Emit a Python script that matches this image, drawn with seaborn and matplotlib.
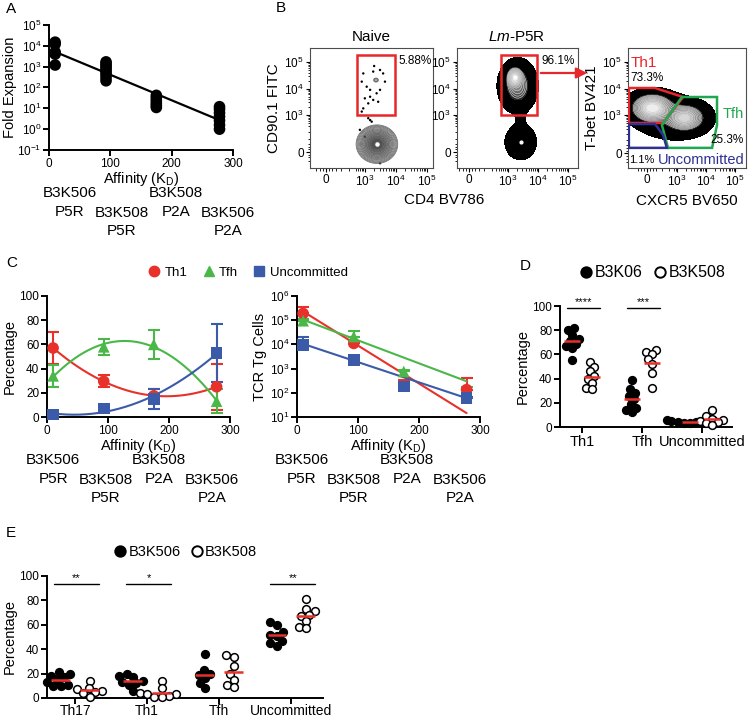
import numpy as np
import pandas as pd
import matplotlib
matplotlib.use("Agg")
import matplotlib.pyplot as plt
from matplotlib.lines import Line2D
from matplotlib.patches import Rectangle, Polygon, FancyArrowPatch
from matplotlib.ticker import FixedLocator, NullLocator
import seaborn as sns

# ---------------- data ----------------
# A: fold expansion for each peptide (affinity K_D)
kd = [10, 93, 175, 278]
peptide_name = ["B3K506", "B3K508", "B3K508", "B3K506"]
peptide_mut = ["P5R", "P5R", "P2A", "P2A"]
fold_506_p5r = [15000, 12000, 5000, 4000, 1200]
fold_508_p5r = [1700, 1400, 1100, 900, 700, 550, 420, 300, 210]
fold_508_p2a = [42, 32, 24, 18, 14, 11]
fold_506_p2a = [12, 9, 6, 4, 2.6, 1.6, 1.0]

# C left: % of each subset (mean, SEM)
th1_pct = [57, 29.5, 17.5, 25]
th1_pct_sem = [13, 5, 6, 19]
tfh_pct = [34, 58, 60, 13]
tfh_pct_sem = [9, 6.5, 12, 10]
unc_pct = [2, 7, 15, 53]
unc_pct_sem = [1, 3, 8, 24]

# C right: TCR Tg cells (mean, top of SEM bar, fitted line at first/last K_D)
th1_cells = [1.9e5, 1.1e4, 215, 135]
th1_cells_top = [3.6e5, 1.3e4, 330, 420]
tfh_cells = [9.5e4, 2.1e4, 760, 65]
tfh_cells_top = [1.1e5, 3.6e4, 900, 180]
unc_cells = [9.5e3, 2.3e3, 180, 60]
unc_cells_top = [2.0e4, 3.1e3, 200, 70]
th1_fit_ends = [2.3e5, 14.5]
tfh_fit_ends = [1.05e5, 300]
unc_fit_ends = [1.05e4, 60]

# D: % per subset, B3K06 vs B3K508
d_subsets = ["Th1", "Tfh", "Uncommitted"]
d_506 = [[82, 80, 76, 73, 71, 69, 67, 65, 55],
         [39, 31, 28, 26, 23, 19, 16, 14, 12],
         [6, 5.5, 5, 5, 4.5, 4, 4, 3.5, 3]]
d_508 = [[54, 50, 46, 42, 40, 36, 32, 31],
         [64, 62, 60, 56, 52, 45, 32],
         [14, 9, 7, 6, 5, 4, 3, 2]]
d_stars = ["****", "***", ""]

# E: % per subset, B3K506 vs B3K508
e_subsets = ["Th17", "Th1", "Tfh", "Uncommitted"]
e_506 = [[21, 20, 18, 17, 15, 13, 11, 10, 10],
         [20, 18, 17, 14, 13, 12, 11, 6],
         [36, 23, 20, 19, 16, 12, 8],
         [62, 60, 54, 52, 51, 47, 45, 43]]
e_508 = [[14, 8, 7, 6, 5, 4, 1],
         [14, 8, 4, 3, 3, 2, 1, 1],
         [35, 34, 26, 20, 15, 11, 9],
         [81, 73, 71, 68, 67, 63, 58, 57]]
e_stars = ["**", "*", "", "**"]

# B: flow populations in decade units (10^3 -> 3 ...), gates and percentages
naive_pop_x = [3.39, 3.36]
naive_pop_y = [1.9, 4.32]
naive_pop_sx = [0.24, 0.06]
naive_pop_sy = [0.26, 0.06]
naive_pop_w = [1.0, 0.045]
naive_dots_x = [2.95, 2.9, 3.06, 3.17, 3.27, 3.49, 3.59, 3.65, 3.49, 3.38, 3.17, 3.0,
                3.11, 3.27, 3.43, 2.95, 2.9, 3.11, 3.17, 3.22, 2.84, 3.0, 3.49, 3.3]
naive_dots_y = [4.57, 4.26, 4.07, 3.95, 4.64, 4.7, 4.57, 4.26, 3.95, 3.82, 3.69, 3.63,
                3.44, 3.57, 3.5, 3.25, 3.13, 2.88, 2.81, 2.75, 2.44, 2.18, 1.18, 4.85]
lm_pop_x = [3.32, 3.22, 3.42, 3.42]
lm_pop_y = [4.1, 4.42, 2.9, 1.98]
lm_pop_sx = [0.27, 0.12, 0.12, 0.26]
lm_pop_sy = [0.42, 0.18, 0.35, 0.33]
lm_pop_w = [0.5, 1.0, 0.025, 0.15]
th_pop_x = [2.14, 3.28, 2.85]
th_pop_y = [3.27, 2.89, 2.9]
th_pop_sx = [0.38, 0.36, 0.7]
th_pop_sy = [0.28, 0.26, 0.45]
th_pop_w = [1.0, 0.75, 0.12]
cd90_gate = [2.75, 3.98, 3.0, 5.27]
th1_gate_x = [1.34, 2.24, 3.21, 2.52, 1.34]
th1_gate_y = [4.02, 4.02, 3.68, 2.70, 2.70]
tfh_gate_x = [3.17, 4.38, 4.38, 4.21, 2.69, 2.48]
tfh_gate_y = [3.68, 3.68, 2.62, 1.76, 1.76, 2.62]
unc_gate_x = [1.34, 2.24, 2.52, 2.65, 1.34]
unc_gate_y = [2.66, 2.66, 2.25, 1.76, 1.76]
gate_pct = {"naive": "5.88%", "lm": "96.1%", "th1": "73.3%", "tfh": "25.3%", "unc": "1.1%"}

# ---------------- style ----------------
sns.set_theme(style="ticks")
plt.rcParams.update({
    "font.family": ["Liberation Sans", "DejaVu Sans"],
    "mathtext.fontset": "custom",
    "mathtext.rm": "Liberation Sans",
    "mathtext.it": "Liberation Sans:italic",
    "mathtext.bf": "Liberation Sans:bold",
    "hatch.color": "black",
    "hatch.linewidth": 0.7,
    "axes.edgecolor": "black",
    "xtick.color": "black",
    "ytick.color": "black",
    "text.color": "black",
    "axes.labelcolor": "black",
})
RED, GREEN, BLUE = "#E8312A", "#4BB749", "#3B5BA8"
GATE_RED, GATE_GREEN, GATE_BLUE = "#E8262B", "#1FA84F", "#2E3192"

W, H = 750, 717
fig = plt.figure(figsize=(7.5, 7.17), dpi=100)


def box(l, t, r, b):
    return [l / W, 1 - b / H, (r - l) / W, (b - t) / H]


def ftext(x, y, s, **kw):
    kw.setdefault("va", "center")
    fig.text(x / W, 1 - y / H, s, **kw)


def prism(ax):
    sns.despine(ax=ax)
    for s in ("left", "bottom"):
        ax.spines[s].set_linewidth(1.4)
    ax.tick_params(which="major", direction="out", length=4, width=1.4, labelsize=8.5, pad=1.5)
    ax.tick_params(which="minor", length=0)


def peptide_labels(ax, xs, height_px):
    for i, (name, mut) in enumerate(zip(peptide_name, peptide_mut)):
        off = [63, 81] if i % 2 else [43, 62]
        for line, dy in zip([name, mut], off):
            ax.text(xs[i], -dy / height_px, line, transform=ax.get_xaxis_transform(),
                    ha="center", va="center", fontsize=11)


kd_label = "Affinity (K$_\\mathregular{D}$)"

# ---------------- A ----------------
axA = fig.add_axes(box(49, 25, 233, 150))
a_groups = [fold_506_p5r, fold_508_p5r, fold_508_p2a, fold_506_p2a]
dfA = pd.DataFrame({"kd": np.repeat(kd, [len(g) for g in a_groups]),
                    "fold": np.concatenate(a_groups)})
axA.set_yscale("log")
slope, icpt = np.polyfit(dfA["kd"], np.log10(dfA["fold"]), 1)
fx = np.array([kd[0], kd[-1]])
sns.lineplot(x=fx, y=10 ** (icpt + slope * fx), color="black", linewidth=1.6, ax=axA)
sns.scatterplot(data=dfA, x="kd", y="fold", color="black", s=70, edgecolor="none",
                ax=axA, zorder=3, clip_on=False)
axA.set_xlim(0, 300)
axA.set_ylim(0.1, 1e5)
axA.set_xticks([0, 100, 200, 300])
axA.set_yticks([1e-1, 1, 10, 100, 1e3, 1e4, 1e5])
axA.yaxis.set_minor_locator(NullLocator())
prism(axA)
axA.set_xlabel(kd_label, fontsize=10.5, labelpad=0)
axA.set_ylabel("Fold Expansion", fontsize=10.5, labelpad=0)
axA.text(176, 0.84, "P < 0.0001", transform=axA.get_yaxis_transform(), fontsize=8.5, va="center")
axA.text(176, 0.70, "r$^2$= 0.7046", transform=axA.get_yaxis_transform(), fontsize=8.5, va="center")
peptide_labels(axA, [34, 119, 207, 292], 125)

# ---------------- C left ----------------
axC1 = fig.add_axes(box(47, 296, 230, 417))
xs = np.linspace(kd[0], kd[-1], 150)
c_series = [(th1_pct, th1_pct_sem, RED, "o"), (tfh_pct, tfh_pct_sem, GREEN, "^"),
            (unc_pct, unc_pct_sem, BLUE, "s")]
for vals, sem, col, mk in c_series:
    coef = np.polyfit(kd, vals, 2)
    sns.lineplot(x=xs, y=np.polyval(coef, xs), color=col, linewidth=1.5, ax=axC1)
    axC1.errorbar(kd, vals, yerr=sem, fmt="none", ecolor=col, elinewidth=1.5,
                  capsize=4.5, capthick=1.5)
    sns.scatterplot(x=kd, y=vals, color=col, marker=mk, s=70, edgecolor="none",
                    ax=axC1, zorder=3, clip_on=False)
axC1.set_xlim(0, 300)
axC1.set_ylim(0, 100)
axC1.set_xticks([0, 100, 200, 300])
axC1.set_yticks(range(0, 101, 20))
prism(axC1)
axC1.set_xlabel(kd_label, fontsize=10.5, labelpad=0)
axC1.set_ylabel("Percentage", fontsize=10.5, labelpad=2)
peptide_labels(axC1, [10, 96, 183, 270], 121)

handles = [Line2D([], [], ls="none", marker=m, color=c, markersize=7.5)
           for c, m in [(RED, "o"), (GREEN, "^"), (BLUE, "s")]]
fig.legend(handles, ["Th1", "Tfh", "Uncommitted"], loc="center",
           bbox_to_anchor=(247 / W, 1 - 273 / H), ncol=3, frameon=False, fontsize=9.5,
           handletextpad=0.2, columnspacing=1.0, handlelength=1.2, borderpad=0)

# ---------------- C right ----------------
axC2 = fig.add_axes(box(297, 296, 480, 417))
axC2.set_yscale("log")
c2_series = [(th1_cells, th1_cells_top, th1_fit_ends, RED, "o"),
             (tfh_cells, tfh_cells_top, tfh_fit_ends, GREEN, "^"),
             (unc_cells, unc_cells_top, unc_fit_ends, BLUE, "s")]
for vals, top, ends, col, mk in c2_series:
    sns.lineplot(x=[kd[0], kd[-1]], y=ends, color=col, linewidth=1.5, ax=axC2)
    up = np.array(top) - np.array(vals)
    axC2.errorbar(kd, vals, yerr=[np.zeros(len(vals)), up], fmt="none", ecolor=col,
                  elinewidth=1.5, capsize=4.5, capthick=1.5)
    sns.scatterplot(x=kd, y=vals, color=col, marker=mk, s=70, edgecolor="none",
                    ax=axC2, zorder=3, clip_on=False)
axC2.set_xlim(0, 300)
axC2.set_ylim(10, 1e6)
axC2.set_xticks([0, 100, 200, 300])
axC2.set_yticks([1e1, 1e2, 1e3, 1e4, 1e5, 1e6])
axC2.yaxis.set_minor_locator(NullLocator())
prism(axC2)
axC2.set_xlabel(kd_label, fontsize=10.5, labelpad=0)
axC2.set_ylabel("TCR Tg Cells", fontsize=10.5, labelpad=2)
peptide_labels(axC2, [8, 93, 180, 267], 121)


# ---------------- D and E (scatter dot plots) ----------------
def swarm_xy(ax, x, y, size):
    # let seaborn lay the swarm out with a small dot, then read back the positions
    n0 = len(ax.collections)
    sns.swarmplot(x=x, y=y, native_scale=True, orient="x", size=size, linewidth=0, ax=ax)
    fig.canvas.draw()
    new = list(ax.collections[n0:])
    xy = np.vstack([c.get_offsets() for c in new])
    for c in new:
        c.remove()
    return xy


def dot_panel(ax, g506, g508, pos506, pos508, half, stars, star_y, xlim, swarm_size):
    ax.set_ylim(0, 100)
    ax.set_xlim(xlim)
    for groups, pos, face in [(g506, pos506, "black"), (g508, pos508, "white")]:
        x = np.repeat(pos, [len(g) for g in groups])
        y = np.concatenate(groups)
        xy = swarm_xy(ax, x, y, swarm_size)
        sns.scatterplot(x=xy[:, 0], y=xy[:, 1], color=face, edgecolor="black",
                        linewidth=1.1, s=31, ax=ax, zorder=3, clip_on=False)
        means = [np.mean(g) for g in groups]
        ax.hlines(means, np.array(pos) - half, np.array(pos) + half, color=RED,
                  linewidth=1.8, zorder=5)
    for p1, p2, s in zip(pos506, pos508, stars):
        if s:
            ax.plot([p1 - half * 0.7, p2 + half], [star_y, star_y], color="black", lw=1)
            ax.text((p1 + p2) / 2 + half * 0.15, star_y + 1, s, ha="center", va="bottom",
                    fontsize=8)
    ax.set_ylim(0, 100)
    ax.set_xlim(xlim)
    ax.set_yticks(range(0, 101, 20))
    prism(ax)
    ax.set_ylabel("Percentage", fontsize=10.5, labelpad=2)
    ax.set_xlabel("")


def genotype_legend(x, y, names, size):
    hs = [Line2D([], [], ls="none", marker="o", markerfacecolor=f, markeredgecolor="black",
                 markeredgewidth=1.4, markersize=7.5) for f in ("black", "white")]
    fig.legend(hs, names, loc="center", bbox_to_anchor=(x / W, 1 - y / H), ncol=2,
               frameon=False, fontsize=size, handletextpad=0.05, columnspacing=0.6,
               handlelength=1.0, borderpad=0)


axD = fig.add_axes(box(560, 306, 732, 427))
d_pos_506 = [0, 3, 5.9]
d_pos_508 = [1, 4, 7]
dot_panel(axD, d_506, d_508, d_pos_506, d_pos_508, 0.38, d_stars, 98.5, (-0.6, 8.0), 4.3)
axD.set_xticks([0.5, 3.5, 6.5], d_subsets, fontsize=10.5)
genotype_legend(652, 273, ["B3K06", "B3K508"], 11.5)

axE = fig.add_axes(box(47, 576, 323, 698))
e_pos_506 = [-0.2, 0.8, 1.8, 2.8]
e_pos_508 = [0.2, 1.2, 2.2, 3.2]
dot_panel(axE, e_506, e_508, e_pos_506, e_pos_508, 0.13, e_stars, 93.5, (-0.39, 3.44), 5.0)
axE.set_xticks([0, 1, 2, 3], e_subsets, fontsize=10)
axE.tick_params(axis="x", pad=0.5)
genotype_legend(185, 552, ["B3K506", "B3K508"], 10.5)


# ---------------- B (flow plots) ----------------
def flow_axes(rect, xlim, x0, ylim, y0):
    ax = fig.add_axes(box(*rect))
    ax.set_xlim(xlim)
    ax.set_ylim(ylim)
    labels = ["0", "$10^3$", "$10^4$", "$10^5$"]
    ax.set_xticks([x0, 3, 4, 5], labels)
    ax.set_yticks([y0, 3, 4, 5], labels)
    for axis, z in ((ax.xaxis, x0), (ax.yaxis, y0)):
        mins = [z + d for d in (-0.32, -0.2, -0.1, 0.1, 0.2, 0.32, 0.5, 0.75)]
        mins += [d + np.log10(k) for d in (2, 3, 4) for k in range(2, 10)
                 if d + np.log10(k) > z + 0.9]
        axis.set_minor_locator(FixedLocator(mins))
    for s in ax.spines.values():
        s.set_linewidth(0.8)
        s.set_color("0.3")
    ax.tick_params(which="major", direction="out", length=3, width=0.8, labelsize=8.5, pad=1.5)
    ax.tick_params(which="minor", direction="out", length=1.8, width=0.6)
    return ax


def density(ax, cx, cy, sx, sy, w):
    gx = np.linspace(*ax.get_xlim(), 320)
    gy = np.linspace(*ax.get_ylim(), 320)
    X, Y = np.meshgrid(gx, gy)
    Z = np.zeros_like(X)
    for a, c, b, d, wi in zip(cx, cy, sx, sy, w):
        Z += wi * np.exp(-0.5 * ((X - a) / b) ** 2 - 0.5 * ((Y - c) / d) ** 2)
    return X, Y, Z / Z.max()


def dense_cloud(ax, X, Y, Z, lo=0.004, black=0.17):
    ax.contourf(X, Y, Z, levels=[lo, lo * 3.5], colors="none", hatches=["......."])
    ax.contourf(X, Y, Z, levels=[lo * 3.5, black], colors="black")
    lv = np.geomspace(black, 1.0, 11)
    lv[-1] = 1.01
    shades = [str(round(v, 3)) for v in np.linspace(0.15, 0.93, 10)]
    ax.contourf(X, Y, Z, levels=lv, colors=shades)
    ax.contour(X, Y, Z, levels=lv[1:-1], colors="0.8", linewidths=0.45)


# naive
ax1 = flow_axes((310, 48, 433, 168), (1.23, 5.2), 1.74, (1.0, 5.53), 1.6)
X, Y, Z = density(ax1, naive_pop_x, naive_pop_y, naive_pop_sx, naive_pop_sy, naive_pop_w)
lv = np.geomspace(0.02, 0.96, 14)
fills = ["1.0"] * 5 + [str(round(c, 3)) for c in np.linspace(0.8, 0.25, 9)]
ax1.contourf(X, Y, Z, levels=np.append(lv, 1.01), colors=fills)
ax1.contour(X, Y, Z, levels=lv, colors="0.4", linewidths=0.55)
sns.scatterplot(x=naive_dots_x, y=naive_dots_y, color="black", s=3, edgecolor="none", ax=ax1)
ax1.scatter(naive_pop_x[:1], naive_pop_y[:1], color="white", s=5, zorder=4)
ax1.add_patch(Rectangle((cd90_gate[0], cd90_gate[2]), cd90_gate[1] - cd90_gate[0],
                        cd90_gate[3] - cd90_gate[2], fill=False, ec=GATE_RED, lw=1.8, zorder=5))
ax1.set_ylabel("CD90.1 FITC", fontsize=11, labelpad=2)
ftext(371, 37, "Naive", ha="center", fontsize=11)
ftext(398, 61, gate_pct["naive"], fontsize=8.5)

# Lm-P5R
ax2 = flow_axes((457, 48, 578, 168), (1.3, 5.33), 1.7, (1.0, 5.53), 1.6)
X, Y, Z = density(ax2, lm_pop_x, lm_pop_y, lm_pop_sx, lm_pop_sy, lm_pop_w)
dense_cloud(ax2, X, Y, Z)
ax2.scatter([lm_pop_x[1], lm_pop_x[3]], [lm_pop_y[1], lm_pop_y[3]], color="white", s=4, zorder=4)
ax2.add_patch(Rectangle((cd90_gate[0], cd90_gate[2]), cd90_gate[1] - cd90_gate[0],
                        cd90_gate[3] - cd90_gate[2], fill=False, ec=GATE_RED, lw=1.8, zorder=5))
ftext(517, 37, "$\\it{Lm}$-P5R", ha="center", fontsize=11)
ftext(541, 61, gate_pct["lm"], fontsize=8.5)
ftext(444, 200, "CD4 BV786", ha="center", fontsize=11)
fig.patches.append(FancyArrowPatch(
    (538 / W, 1 - 73 / H), (590 / W, 1 - 73 / H), transform=fig.transFigure,
    arrowstyle="-|>", mutation_scale=16, color=GATE_RED, lw=1.6))

# Th1 / Tfh split
ax3 = flow_axes((628, 48, 746, 168), (1.31, 5.38), 1.97, (1.0, 5.53), 1.55)
X, Y, Z = density(ax3, th_pop_x, th_pop_y, th_pop_sx, th_pop_sy, th_pop_w)
dense_cloud(ax3, X, Y, Z, lo=0.006, black=0.2)
for gx, gy, col in [(th1_gate_x, th1_gate_y, GATE_RED), (tfh_gate_x, tfh_gate_y, GATE_GREEN),
                    (unc_gate_x, unc_gate_y, GATE_BLUE)]:
    ax3.add_patch(Polygon(np.column_stack([gx, gy]), closed=True, fill=False, ec=col,
                          lw=1.8, zorder=5))
ax3.set_ylabel("T-bet BV421", fontsize=11, labelpad=2)
ax3.set_xlabel("CXCR5 BV650", fontsize=11, labelpad=3)
ftext(631, 63, "Th1", color=GATE_RED, fontsize=11)
ftext(630, 78, gate_pct["th1"], fontsize=8.5)
ftext(744, 114, "Tfh", color=GATE_GREEN, fontsize=10.5, ha="right")
ftext(744, 140, gate_pct["tfh"], fontsize=8.5, ha="right")
ftext(629, 160, gate_pct["unc"], fontsize=8)
ftext(745, 160, "Uncommitted", color=GATE_BLUE, fontsize=10.5, ha="right")

# panel letters
for s, (x, y) in zip("ABCDE", [(6, 9), (276, 8), (6, 263), (520, 266), (6, 533)]):
    ftext(x, y, s, fontsize=11)

fig.savefig("out.png", dpi=100)
